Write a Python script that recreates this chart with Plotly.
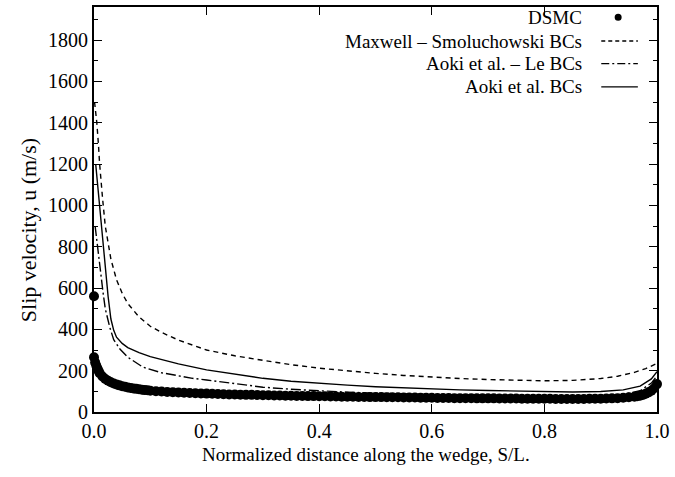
import plotly.graph_objects as go

# ---------------- data ----------------
dsmc_x = [0.0, 0.0, 0.002, 0.004, 0.006, 0.008,
          0.01, 0.015, 0.02, 0.025, 0.03, 0.035, 0.04, 0.045, 0.05, 0.055, 0.06, 0.065, 0.07, 0.075, 0.08, 0.085, 0.09, 0.095,
          0.10, 0.11, 0.12, 0.13, 0.14, 0.15, 0.16, 0.17, 0.18, 0.19,
          0.20, 0.21, 0.22, 0.23, 0.24, 0.25, 0.26, 0.27, 0.28, 0.29,
          0.30, 0.31, 0.32, 0.33, 0.34, 0.35, 0.36, 0.37, 0.38, 0.39,
          0.40, 0.41, 0.42, 0.43, 0.44, 0.45, 0.46, 0.47, 0.48, 0.49,
          0.50, 0.51, 0.52, 0.53, 0.54, 0.55, 0.56, 0.57, 0.58, 0.59,
          0.60, 0.61, 0.62, 0.63, 0.64, 0.65, 0.66, 0.67, 0.68, 0.69,
          0.70, 0.71, 0.72, 0.73, 0.74, 0.75, 0.76, 0.77, 0.78, 0.79,
          0.80, 0.81, 0.82, 0.83, 0.84, 0.85, 0.86, 0.87, 0.88, 0.89,
          0.90, 0.91, 0.92, 0.93, 0.94, 0.95, 0.96, 0.965, 0.97, 0.975, 0.98, 0.985, 0.99, 0.995, 1.0]
dsmc_y = [560, 265, 240, 225, 212, 200,
          188, 172, 160, 151, 144, 138, 133, 129, 125, 122, 119, 116, 114, 112, 110, 108, 106, 105,
          103, 101, 99, 97, 96, 94, 93, 92, 91, 90,
          89, 88, 87, 86, 85, 85, 84, 83, 83, 82,
          81, 81, 80, 80, 79, 79, 78, 78, 77, 77,
          76, 76, 75, 75, 74, 74, 74, 73, 73, 72,
          72, 72, 71, 71, 71, 70, 70, 70, 69, 69,
          69, 68, 68, 68, 67, 67, 67, 67, 66, 66,
          66, 66, 65, 65, 65, 65, 64, 64, 64, 64,
          64, 64, 63, 63, 63, 63, 63, 63, 64, 64,
          64, 65, 66, 67, 69, 71, 74, 76, 79, 83, 88, 95, 103, 115, 135]

ms_x = [0.001, 0.003, 0.005, 0.008, 0.01, 0.015, 0.02, 0.03, 0.04, 0.05, 0.06, 0.08, 0.10, 0.12, 0.15, 0.20, 0.25, 0.30,
        0.35, 0.40, 0.45, 0.50, 0.55, 0.60, 0.65, 0.70, 0.75, 0.80, 0.85, 0.90, 0.93, 0.96, 0.98, 1.0]
ms_y = [1500, 1460, 1400, 1290, 1200, 1040, 900, 740, 640, 575, 525, 460, 415, 385, 348, 300, 272, 250,
        229, 212, 198, 187, 177, 169, 162, 157, 153, 151, 153, 162, 173, 192, 210, 235]

le_x = [0.002, 0.004, 0.008, 0.012, 0.016, 0.02, 0.028, 0.035, 0.046, 0.06, 0.087, 0.12, 0.175, 0.20, 0.25, 0.30,
        0.35, 0.40, 0.45, 0.50, 0.55, 0.60, 0.65, 0.70, 0.75, 0.80, 0.85, 0.90, 0.94, 0.97, 0.99, 1.0]
le_y = [900, 850, 760, 660, 580, 500, 410, 350, 305, 265, 217, 190, 163, 155, 138, 120,
        110, 102, 96, 91, 87, 84, 81, 79, 77, 76, 75, 77, 85, 103, 140, 175]

ak_x = [0.003, 0.008, 0.012, 0.016, 0.02, 0.025, 0.03, 0.035, 0.04, 0.05, 0.06, 0.08, 0.10, 0.15, 0.20, 0.25, 0.30,
        0.35, 0.40, 0.45, 0.50, 0.55, 0.60, 0.65, 0.70, 0.75, 0.80, 0.85, 0.90, 0.94, 0.97, 0.99, 1.0]
ak_y = [1200, 1050, 940, 840, 720, 560, 450, 395, 362, 332, 312, 287, 268, 233, 204, 183, 163,
        149, 138, 130, 122, 116, 111, 107, 104, 101, 99, 97, 99, 107, 125, 160, 195]

legend_names = ["DSMC", "Maxwell \u2013 Smoluchowski BCs", "Aoki et al. \u2013 Le BCs", "Aoki et al. BCs"]
x_ticks = [0.0, 0.2, 0.4, 0.6, 0.8, 1.0]
x_ticklabels = ["0.0", "0.2", "0.4", "0.6", "0.8", "1.0"]
y_ticks = [0, 200, 400, 600, 800, 1000, 1200, 1400, 1600, 1800]
x_title = "Normalized distance along the wedge, S/L."
y_title = "Slip velocity, u (m/s)"

FONT = "Liberation Serif, Times New Roman, serif"

fig = go.Figure()
fig.add_trace(go.Scatter(x=ms_x, y=ms_y, mode="lines", name=legend_names[1],
                         line=dict(color="black", width=1.4, dash="5px,4px")))
fig.add_trace(go.Scatter(x=le_x, y=le_y, mode="lines", name=legend_names[2],
                         line=dict(color="black", width=1.4, dash="10px,3px,2px,3px")))
fig.add_trace(go.Scatter(x=ak_x, y=ak_y, mode="lines", name=legend_names[3],
                         line=dict(color="black", width=1.4)))
fig.add_trace(go.Scatter(x=dsmc_x, y=dsmc_y, mode="markers", name=legend_names[0],
                         marker=dict(color="black", size=10), cliponaxis=False))

# manual legend (text right-aligned, sample on the right as in the reference)
rows_y = [0.975, 0.916, 0.860, 0.803]
for name, ry in zip(legend_names, rows_y):
    fig.add_annotation(x=0.87, y=ry, xref="paper", yref="paper", text=name, showarrow=False,
                       xanchor="right", yanchor="middle", font=dict(family=FONT, size=19, color="black"))
fig.add_shape(type="circle", xref="paper", yref="paper", xsizemode="pixel", ysizemode="pixel",
              xanchor=0.931, yanchor=rows_y[0], x0=-3.5, x1=3.5, y0=-3.5, y1=3.5,
              fillcolor="black", line=dict(color="black", width=0))
dashes = ["4px,3px", "8px,3px,2px,3px", "solid"]
for d, ry in zip(dashes, rows_y[1:]):
    fig.add_shape(type="line", xref="paper", yref="paper", x0=0.901, x1=0.966, y0=ry, y1=ry,
                  line=dict(color="black", width=1.3, dash=d))

# axis titles placed as in the reference
fig.add_annotation(x=-0.1164, y=0.45, xref="paper", yref="paper", text=y_title, textangle=-90,
                   showarrow=False, xanchor="center", yanchor="middle",
                   font=dict(family=FONT, size=22, color="black"))
fig.add_annotation(x=0.484, y=-0.106, xref="paper", yref="paper", text=x_title,
                   showarrow=False, xanchor="center", yanchor="middle",
                   font=dict(family=FONT, size=19, color="black"))

axis_common = dict(showline=True, linecolor="black", linewidth=2, mirror="allticks",
                   ticks="inside", ticklen=8, tickwidth=1, tickcolor="black",
                   showgrid=False, zeroline=False,
                   tickfont=dict(family=FONT, size=20, color="black"))
fig.update_xaxes(range=[0, 1], tickvals=x_ticks, ticktext=x_ticklabels, **axis_common)
fig.update_yaxes(range=[0, 1960], tickvals=y_ticks,
                 minor=dict(dtick=100, ticks="inside", ticklen=4, tickcolor="black", tickwidth=1),
                 **axis_common)
fig.update_layout(width=675, height=477, margin=dict(l=94, r=14, t=5, b=65),
                  paper_bgcolor="white", plot_bgcolor="white", showlegend=False)
fig.write_html("out.html")
